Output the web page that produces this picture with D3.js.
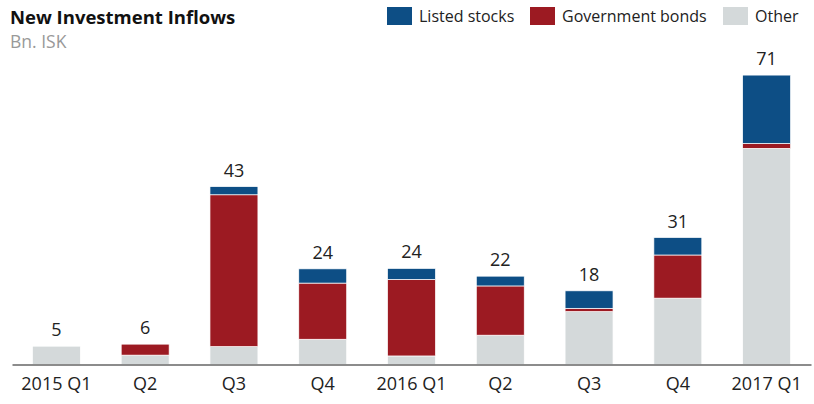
<!DOCTYPE html>
<html>
<head>
<meta charset="utf-8">
<script src="https://cdn.jsdelivr.net/npm/d3@7"></script>
<style>
  body { margin: 0; background: #fff; }
  svg { display: block; font-family: "Open Sans", "Noto Sans", sans-serif; }
</style>
</head>
<body>
<svg id="chart" width="814" height="404"></svg>
<script>
let WIDTH = 814;
let HEIGHT = 404;

// quarters
let quarters = ['2015 Q1', 'Q2', 'Q3', 'Q4', '2016 Q1', 'Q2 ', 'Q3 ', 'Q4 ', '2017 Q1'];
// Bn. ISK
let other      = [4.5, 2.3, 4.4, 6.2, 2.1, 7.2, 13.0, 16.3, 53.1];
let govBonds   = [0,   2.7, 37.3, 13.8, 18.8, 12.1, 0.8, 10.6, 1.2];
let listed     = [0,   0,   2.0, 3.5, 2.7, 2.4, 4.3, 4.3, 16.8];
let totals     = [5, 6, 43, 24, 24, 22, 18, 31, 71];

let seriesNames = ['Other', 'Government bonds', 'Listed stocks'];
let colors = ['#d4d9da', '#9c1a22', '#0d4e85'];

let svg = d3.select('#chart');

let rows = quarters.map(function (q, i) {
  return { q: q, 'Other': other[i], 'Government bonds': govBonds[i], 'Listed stocks': listed[i] };
});

let xScale = d3.scaleBand()
  .domain(quarters)
  .range([12, 811])
  .paddingInner(0.46)
  .paddingOuter(0.23);

let yScale = d3.scaleLinear()
  .domain([0, 71])
  .range([364.5, 75.5]);

let stacked = d3.stack().keys(seriesNames)(rows);

svg.append('g')
  .selectAll('g')
  .data(stacked)
  .enter().append('g')
    .attr('fill', function (d, i) { return colors[i]; })
  .selectAll('rect')
  .data(function (d) { return d; })
  .enter().append('rect')
    .attr('x', function (d) { return xScale(d.data.q); })
    .attr('width', xScale.bandwidth())
    .attr('y', function (d) { return yScale(d[1]); })
    .attr('height', function (d) { return Math.max(0, yScale(d[0]) - yScale(d[1])); })
    .attr('stroke', '#fff')
    .attr('stroke-width', 0.7);

// totals on top
svg.append('g')
  .selectAll('text')
  .data(rows)
  .enter().append('text')
    .attr('x', function (d) { return xScale(d.q) + xScale.bandwidth() / 2; })
    .attr('y', function (d, i) {
      return yScale(d['Other'] + d['Government bonds'] + d['Listed stocks']) - 10;
    })
    .attr('text-anchor', 'middle')
    .attr('font-size', 18)
    .attr('fill', '#222')
    .text(function (d, i) { return totals[i]; });

// x axis
let bottomAxis = d3.axisBottom(xScale).tickSize(0).tickSizeOuter(0).tickPadding(12.5);
let xAxis = svg.append('g')
  .attr('transform', 'translate(0,' + 364.5 + ')')
  .call(bottomAxis);
xAxis.select('.domain').attr('stroke', '#666').attr('stroke-width', 1.5);
xAxis.selectAll('text')
  .attr('font-size', 18)
  .attr('font-family', '"Open Sans", "Noto Sans", sans-serif')
  .attr('fill', '#222')
  .text(function (d) { return d.trim(); });

// title
svg.append('text')
  .attr('x', 10).attr('y', 24)
  .attr('font-size', 18.5).attr('font-weight', 'bold')
  .attr('fill', '#111')
  .text('New Investment Inflows');
svg.append('text')
  .attr('x', 10).attr('y', 48)
  .attr('font-size', 17.5)
  .attr('fill', '#999')
  .text('Bn. ISK');

// legend
let legendItems = [
  { name: 'Listed stocks', color: colors[2], x: 387 },
  { name: 'Government bonds', color: colors[1], x: 530 },
  { name: 'Other', color: colors[0], x: 723 }
];
let legend = svg.append('g')
  .selectAll('g')
  .data(legendItems)
  .enter().append('g')
    .attr('transform', function (d) { return 'translate(' + d.x + ',7)'; });
legend.append('rect')
  .attr('width', 25).attr('height', 18)
  .attr('fill', function (d) { return d.color; });
legend.append('text')
  .attr('x', 32).attr('y', 15)
  .attr('font-size', 16)
  .attr('fill', '#222')
  .text(function (d) { return d.name; });
</script>
</body>
</html>
